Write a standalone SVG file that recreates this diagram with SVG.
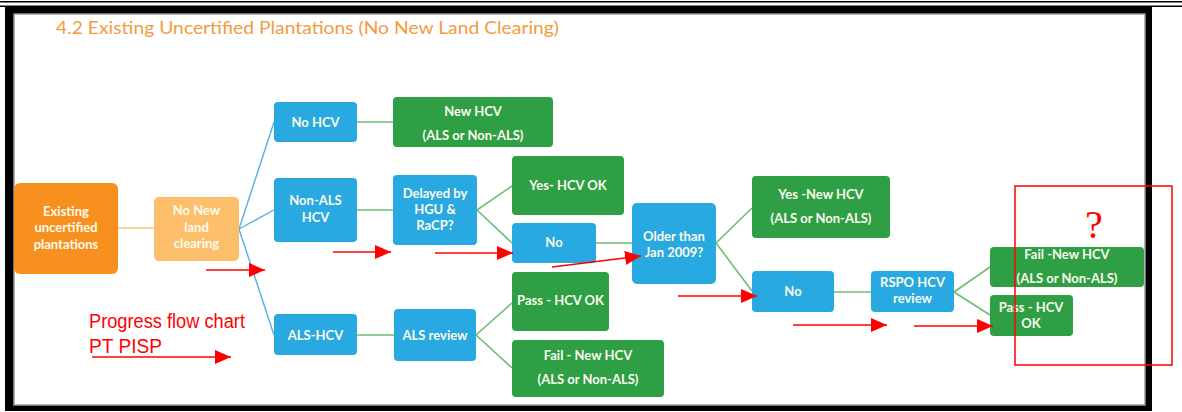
<svg xmlns="http://www.w3.org/2000/svg" width="1182" height="412" viewBox="0 0 1182 412">
  <style>
    .t { font-family: Lato, "Open Sans", "Liberation Sans", sans-serif; font-weight: bold; font-size: 13px; fill: #fbfbee; text-anchor: middle; }
    .blue { fill: #29a9e1; }
    .green { fill: #2f9f45; }
    .orange { fill: #f7901e; }
    .lorange { fill: #fdbf6c; }
    .cb { stroke: #5aaee0; stroke-width: 1.4; fill: none; }
    .cg { stroke: #6cbd72; stroke-width: 1.6; fill: none; }
    .co { stroke: #fbc27c; stroke-width: 1.6; fill: none; }
    .ra { stroke: #ff0000; stroke-width: 1.6; fill: none; marker-end: url(#redHead); }
    .note { font-family: "Liberation Sans", Arial, sans-serif; font-size: 20px; fill: #ff0000; }
  </style>
  <defs>
    <marker id="redHead" markerUnits="userSpaceOnUse" markerWidth="17" markerHeight="15" refX="16" refY="7" orient="auto">
      <path d="M0,0 L16,7 L0,14 z" fill="#ff0000"/>
    </marker>
  </defs>

  <!-- page rules and frame -->
  <rect x="0" y="0" width="1182" height="412" fill="#ffffff"/>
  <rect x="0" y="1" width="1182" height="1.5" fill="#000000"/>
  <rect x="0" y="5.5" width="1182" height="1.5" fill="#000000"/>
  <rect x="5" y="6" width="1147" height="405" fill="#000000"/>
  <rect x="14" y="14" width="1131" height="391" fill="#ffffff" stroke="#9a9a9a" stroke-width="1.5"/>

  <!-- heading -->
  <text x="56" y="34" textLength="503" lengthAdjust="spacingAndGlyphs" font-family="Lato, 'Open Sans', 'Liberation Sans', sans-serif" font-size="18" fill="#f59a3e">4.2 Existing Uncertified Plantations (No New Land Clearing)</text>

  <!-- connectors -->
  <g id="connectors">
    <line class="co" x1="118" y1="228" x2="154" y2="228"/>
    <line class="cb" x1="239" y1="229" x2="274" y2="122"/>
    <line class="cb" x1="239" y1="229" x2="274" y2="210"/>
    <line class="cb" x1="239" y1="229" x2="274" y2="335"/>
    <line class="cg" x1="357" y1="122" x2="393" y2="122"/>
    <line class="cg" x1="357" y1="210" x2="393" y2="210"/>
    <line class="cg" x1="477" y1="210" x2="512" y2="186"/>
    <line class="cg" x1="477" y1="210" x2="512" y2="243"/>
    <line class="cg" x1="596" y1="243" x2="632" y2="243"/>
    <line class="cg" x1="716" y1="243" x2="752" y2="208"/>
    <line class="cg" x1="716" y1="243" x2="752" y2="291"/>
    <line class="cg" x1="834" y1="292" x2="871" y2="292"/>
    <line class="cg" x1="954" y1="292" x2="990" y2="267"/>
    <line class="cg" x1="954" y1="292" x2="990" y2="315"/>
    <line class="cg" x1="357" y1="335" x2="394" y2="335"/>
    <line class="cg" x1="476" y1="335" x2="512" y2="303"/>
    <line class="cg" x1="476" y1="335" x2="512" y2="368"/>
  </g>

  <!-- nodes -->
  <g id="n-existing">
    <rect class="orange" x="14" y="183" width="104" height="91" rx="6"/>
    <text class="t" x="66" y="216">Existing</text>
    <text class="t" x="66" y="232">uncertified</text>
    <text class="t" x="66" y="249">plantations</text>
  </g>
  <g id="n-nonew">
    <rect class="lorange" x="154" y="197" width="85" height="64" rx="5"/>
    <text class="t" x="196.5" y="215">No New</text>
    <text class="t" x="196.5" y="232">land</text>
    <text class="t" x="196.5" y="248">clearing</text>
  </g>
  <g id="n-nohcv">
    <rect class="blue" x="274" y="102" width="83" height="40" rx="4"/>
    <text class="t" x="315.5" y="127">No HCV</text>
  </g>
  <g id="n-newhcv">
    <rect class="green" x="393" y="97" width="160" height="50" rx="4"/>
    <text class="t" x="473" y="116">New HCV</text>
    <text class="t" x="473" y="140">(ALS or Non-ALS)</text>
  </g>
  <g id="n-nonals">
    <rect class="blue" x="274" y="178" width="83" height="64" rx="4"/>
    <text class="t" x="315.5" y="205">Non-ALS</text>
    <text class="t" x="315.5" y="222">HCV</text>
  </g>
  <g id="n-delayed">
    <rect class="blue" x="393" y="175" width="84" height="70" rx="4"/>
    <text class="t" x="435" y="198">Delayed by</text>
    <text class="t" x="435" y="214">HGU &amp;</text>
    <text class="t" x="435" y="230">RaCP?</text>
  </g>
  <g id="n-yesok">
    <rect class="green" x="512" y="156" width="112" height="59" rx="4"/>
    <text class="t" x="568" y="190">Yes- HCV OK</text>
  </g>
  <g id="n-no1">
    <rect class="blue" x="512" y="223" width="84" height="40" rx="4"/>
    <text class="t" x="554" y="247">No</text>
  </g>
  <g id="n-older">
    <rect class="blue" x="632" y="203" width="84" height="81" rx="5"/>
    <text class="t" x="674" y="241">Older than</text>
    <text class="t" x="674" y="257">Jan 2009?</text>
  </g>
  <g id="n-yesnew">
    <rect class="green" x="752" y="176" width="138" height="62" rx="4"/>
    <text class="t" x="821" y="199">Yes -New HCV</text>
    <text class="t" x="821" y="223">(ALS or Non-ALS)</text>
  </g>
  <g id="n-no2">
    <rect class="blue" x="752" y="271" width="82" height="41" rx="4"/>
    <text class="t" x="793" y="296">No</text>
  </g>
  <g id="n-rspo">
    <rect class="blue" x="871" y="271" width="83" height="41" rx="4"/>
    <text class="t" x="912.5" y="287">RSPO HCV</text>
    <text class="t" x="912.5" y="303">review</text>
  </g>
  <g id="n-failrspo">
    <rect class="green" x="990" y="247" width="154" height="40" rx="4"/>
    <text class="t" x="1067" y="259">Fail -New HCV</text>
    <text class="t" x="1067" y="283">(ALS or Non-ALS)</text>
  </g>
  <g id="n-passrspo">
    <rect class="green" x="990" y="295" width="83" height="41" rx="4"/>
    <text class="t" x="1031" y="312">Pass - HCV</text>
    <text class="t" x="1031" y="328">OK</text>
  </g>
  <g id="n-alshcv">
    <rect class="blue" x="274" y="314" width="83" height="41" rx="4"/>
    <text class="t" x="315.5" y="340">ALS-HCV</text>
  </g>
  <g id="n-alsreview">
    <rect class="blue" x="394" y="309" width="82" height="52" rx="4"/>
    <text class="t" x="435" y="340">ALS review</text>
  </g>
  <g id="n-passals">
    <rect class="green" x="512" y="272" width="97" height="59" rx="4"/>
    <text class="t" x="560.5" y="305">Pass - HCV OK</text>
  </g>
  <g id="n-failals">
    <rect class="green" x="512" y="340" width="152" height="57" rx="4"/>
    <text class="t" x="588" y="360">Fail - New HCV</text>
    <text class="t" x="588" y="384">(ALS or Non-ALS)</text>
  </g>

  <!-- red annotations -->
  <g id="annotations">
    <line class="ra" x1="206" y1="270" x2="265" y2="270"/>
    <line class="ra" x1="333" y1="252" x2="391" y2="252"/>
    <line class="ra" x1="435" y1="253" x2="513" y2="253"/>
    <line class="ra" x1="552" y1="267" x2="641" y2="256"/>
    <line class="ra" x1="678" y1="296" x2="757" y2="296"/>
    <line class="ra" x1="793" y1="325" x2="887" y2="325"/>
    <line class="ra" x1="914" y1="326" x2="993" y2="326"/>
    <line class="ra" x1="92" y1="357" x2="231" y2="357"/>
    <text class="note" x="89" y="328" textLength="156" lengthAdjust="spacingAndGlyphs">Progress flow chart</text>
    <text class="note" x="89" y="353" textLength="73" lengthAdjust="spacingAndGlyphs">PT PISP</text>
    <rect x="1015" y="186" width="157" height="179" fill="none" stroke="#ff0000" stroke-width="1.5"/>
    <text x="1094" y="238" text-anchor="middle" font-family="'Liberation Serif', 'Times New Roman', serif" font-size="40" fill="#ff0000">?</text>
  </g>
</svg>
